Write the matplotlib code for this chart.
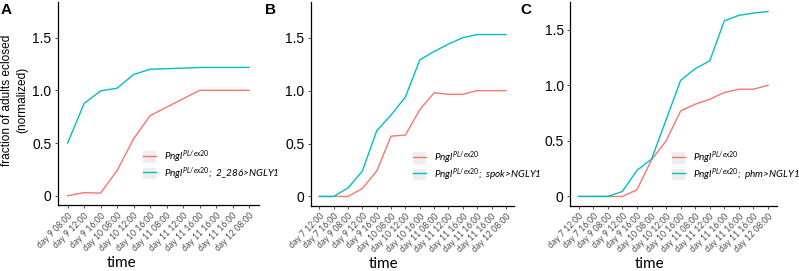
import matplotlib
matplotlib.use("Agg")
import matplotlib.pyplot as plt
from matplotlib.legend_handler import HandlerLine2D
from matplotlib.patches import Rectangle

plt.rcParams['mathtext.fontset'] = 'custom'
plt.rcParams['mathtext.it'] = 'Lato:italic'
plt.rcParams['mathtext.rm'] = 'Lato'

RED = '#F8766D'
CYAN = '#00BFC4'

# ---------------- data ----------------
labels_a = ['day 9 08:00', 'day 9 12:00', 'day 9 16:00', 'day 10 08:00', 'day 10 12:00',
            'day 10 16:00', 'day 11 08:00', 'day 11 12:00', 'day 11 16:00', 'day 11 16:00',
            'day 11 16:00', 'day 12 08:00']
red_a = [0.0, 0.03, 0.025, 0.24, 0.54, 0.76, 0.84, 0.92, 1.0, 1.0, 1.0, 1.0]
cyan_a = [0.5, 0.875, 0.995, 1.02, 1.15, 1.20, 1.205, 1.21, 1.217, 1.217, 1.217, 1.217]

labels_bc = ['day 7 12:00', 'day 7 16:00', 'day 9 08:00', 'day 9 12:00', 'day 9 16:00',
             'day 10 08:00', 'day 10 12:00', 'day 10 16:00', 'day 11 08:00', 'day 11 12:00',
             'day 11 16:00', 'day 11 16:00', 'day 11 16:00', 'day 12 08:00']
red_b = [0.0, 0.0, 0.0, 0.075, 0.24, 0.57, 0.58, 0.82, 0.98, 0.965, 0.965, 1.0, 1.0, 1.0]
cyan_b = [0.0, 0.0, 0.08, 0.24, 0.62, 0.77, 0.94, 1.29, 1.37, 1.44, 1.50, 1.53, 1.53, 1.53]

red_c = [0.0, 0.0, 0.0, 0.0, 0.06, 0.33, 0.50, 0.77, 0.83, 0.875, 0.935, 0.965, 0.965, 1.0]
cyan_c = [0.0, 0.0, 0.0, 0.045, 0.235, 0.335, 0.69, 1.045, 1.15, 1.22, 1.58, 1.63, 1.65, 1.665]

yticks = [0, 0.5, 1.0, 1.5]
ytick_labels = ['0', '0.5', '1.0', '1.5']

ctrl_label = r'$\mathit{Pngl}^{\mathit{PL/ex20}}$'
rescue_labels = [';  2_286>NGLY1', ';  spok>NGLY1', ';  phm>NGLY1']


class KeyHandler(HandlerLine2D):
    def create_artists(self, legend, orig_handle, xdescent, ydescent, width, height,
                       fontsize, trans):
        arts = super().create_artists(legend, orig_handle, xdescent, ydescent, width,
                                      height, fontsize, trans)
        rect = Rectangle((-xdescent, -ydescent), width, height, facecolor='#EEEEEE',
                         edgecolor='none', transform=trans)
        return [rect] + list(arts)


W, H = 799, 271
fig = plt.figure(figsize=(W / 100, H / 100), dpi=100)

panels = [
    dict(px=(57.7, 259.0), py=(2, 205), labels=labels_a, red=red_a, cyan=cyan_a,
         ylim=(-0.0875, 1.8375), leg=(0.424, 0.113), timex=0.318, letter='A', lx=1),
    dict(px=(310.7, 514.5), py=(2, 205.7), labels=labels_bc, red=red_b, cyan=cyan_b,
         ylim=(-0.0875, 1.8375), leg=(0.502, 0.111), timex=0.355, letter='B', lx=265),
    dict(px=(570.0, 776.7), py=(2, 205.7), labels=labels_bc, red=red_c, cyan=cyan_c,
         ylim=(-0.0833, 1.75), leg=(0.493, 0.111), timex=0.387, letter='C', lx=520),
]

for i, p in enumerate(panels):
    x0, x1 = p['px']
    yt, yb = p['py']
    ax = fig.add_axes([x0 / W, 1 - yb / H, (x1 - x0) / W, (yb - yt) / H])
    n = len(p['labels'])
    xs = list(range(n))
    ax.plot(xs, p['red'], color=RED, lw=1.0, label=ctrl_label)
    ax.plot(xs, p['cyan'], color=CYAN, lw=1.0, label=ctrl_label + rescue_labels[i])
    ax.set_xlim(-0.6, n - 1 + 0.6)
    ax.set_ylim(*p['ylim'])
    for s in ['top', 'right']:
        ax.spines[s].set_visible(False)
    for s in ['left', 'bottom']:
        ax.spines[s].set_linewidth(0.9)
        ax.spines[s].set_color('black')
    ax.set_yticks(yticks)
    ax.set_yticklabels(ytick_labels, fontfamily='Liberation Sans', fontsize=10,
                       color='black')
    ax.set_xticks(xs)
    ax.set_xticklabels(p['labels'], rotation=45, ha='right', va='top',
                       rotation_mode='anchor', fontfamily='Lato', fontsize=6.2,
                       color='#4D4D4D')
    ax.tick_params(axis='both', length=2, width=0.6, color='#333333', pad=2.5)
    ax.set_xlabel('time', fontfamily='Lato', fontsize=11)
    ax.xaxis.set_label_coords(p['timex'], -0.25)
    leg = ax.legend(loc='lower left', bbox_to_anchor=p['leg'], frameon=False,
                    borderpad=0, borderaxespad=0, handlelength=1.3, handleheight=1.4,
                    handletextpad=0.8, labelspacing=0,
                    prop=dict(family='Lato', style='italic', size=7.2),
                    handler_map={matplotlib.lines.Line2D: KeyHandler()})
    fig.text(p['lx'] / W, 1 - 3 / H, p['letter'], fontfamily='Liberation Sans',
             fontweight='bold', fontsize=11, va='top', ha='left')

fig.text(14.5 / W, 1 - 100 / H, 'fraction of adults eclosed\n(normalized)',
         fontfamily='Liberation Sans', fontsize=8.6, rotation=90, ha='center',
         va='center', multialignment='center', linespacing=1.3)

fig.savefig('out.png', dpi=100)
